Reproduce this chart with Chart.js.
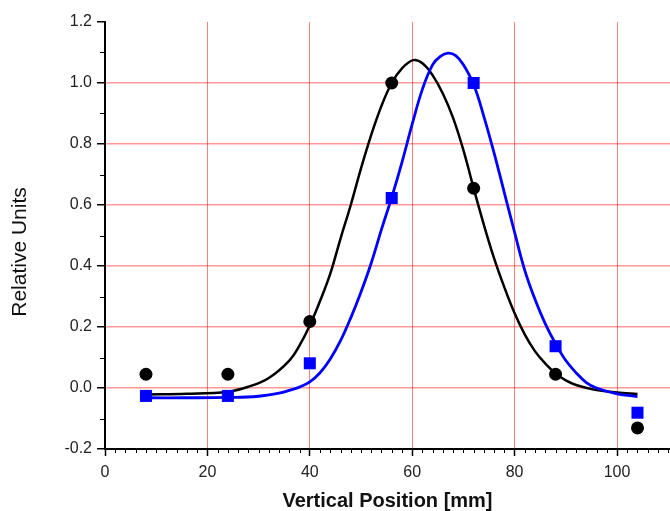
<!DOCTYPE html>
<html>
<head>
<meta charset="utf-8">
<script src="https://cdn.jsdelivr.net/npm/chart.js@4"></script>
<style>
  html, body { margin: 0; padding: 0; background: #fff; overflow: hidden; }
  canvas { display: block; }
</style>
</head>
<body>
<canvas id="miGrafico" width="670" height="511"></canvas>
<script>
// measured points
const posX = [8, 24, 40, 56, 72, 88, 104];
const blackPts = [0.045, 0.045, 0.218, 1.0, 0.655, 0.045, -0.131];
const bluePts = [-0.026, -0.026, 0.081, 0.623, 1.0, 0.137, -0.081];

// fitted curves
const blackFitX = [8, 16, 24, 28, 32, 36, 38, 40, 42, 44, 46, 48, 50, 52, 54, 56, 58, 60.2, 62, 64, 66, 68, 70, 72, 74, 76, 78, 80, 82, 84, 86, 88, 90, 92, 96, 100, 104];
const blackFitY = [-0.021, -0.019, -0.012, 0.004, 0.033, 0.09, 0.14, 0.205, 0.285, 0.375, 0.49, 0.6, 0.72, 0.83, 0.925, 1.0, 1.048, 1.075, 1.065, 1.025, 0.965, 0.885, 0.78, 0.655, 0.535, 0.425, 0.33, 0.245, 0.175, 0.12, 0.08, 0.048, 0.025, 0.01, -0.007, -0.015, -0.02];
const blueFitX = [8, 16, 24, 30, 34, 36, 38, 40, 42, 44, 46, 48, 50, 52, 54, 56, 58, 60, 62, 64, 65.5, 67, 68.5, 70, 72, 74, 76, 78, 80, 82, 84, 86, 88, 90, 92, 94, 96, 100, 104];
const blueFitY = [-0.032, -0.032, -0.031, -0.027, -0.017, -0.008, 0.003, 0.02, 0.05, 0.095, 0.155, 0.23, 0.315, 0.41, 0.52, 0.625, 0.74, 0.865, 0.98, 1.06, 1.087, 1.098, 1.09, 1.06, 0.995, 0.89, 0.77, 0.64, 0.51, 0.385, 0.29, 0.21, 0.145, 0.09, 0.05, 0.018, 0.0, -0.019, -0.028];

const xTicks = [0, 20, 40, 60, 80, 100];
const yTicks = [-0.2, 0.0, 0.2, 0.4, 0.6, 0.8, 1.0, 1.2];
const yTitle = "Relative Units";

function toXY(xs, ys) {
  return xs.map((x, i) => ({ x: x, y: ys[i] }));
}

// small ticks between the labelled ones, plus the y title
const extras = {
  id: "extras",
  afterDraw(chart) {
    const { ctx, scales: { x, y } } = chart;
    ctx.save();
    ctx.strokeStyle = "#000";
    ctx.lineWidth = 1;
    ctx.beginPath();
    for (let v = 2; v < x.max; v += 2) {
      if (v % 20 === 0) continue;
      const px = Math.round(x.getPixelForValue(v)) + 0.5;
      ctx.moveTo(px, y.bottom);
      ctx.lineTo(px, y.bottom + 4);
    }
    for (let i = -1; i < 12; i += 2) {
      const py = Math.round(y.getPixelForValue(i / 10)) + 0.5;
      ctx.moveTo(x.left - 5, py);
      ctx.lineTo(x.left, py);
    }
    ctx.stroke();

    ctx.translate(20, 252);
    ctx.rotate(-Math.PI / 2);
    ctx.fillStyle = "#111";
    ctx.font = "21px 'Liberation Sans'";
    ctx.textAlign = "center";
    ctx.textBaseline = "middle";
    ctx.fillText(yTitle, 0, 0);
    ctx.restore();
  },
};

function createChart() {
  const ctx = document.getElementById("miGrafico").getContext("2d");
  new Chart(ctx, {
    type: "scatter",
    data: {
      datasets: [
        {
          data: toXY(posX, blackPts),
          pointStyle: "circle",
          pointRadius: 6.5,
          backgroundColor: "#000",
          borderColor: "#000",
          borderWidth: 0,
          order: 0,
        },
        {
          data: toXY(posX, bluePts),
          pointStyle: "rect",
          pointRadius: 8.5,
          backgroundColor: "#0000ff",
          borderColor: "#0000ff",
          borderWidth: 0,
          order: 0,
        },
        {
          data: toXY(blackFitX, blackFitY),
          showLine: true,
          pointRadius: 0,
          borderColor: "#000",
          borderWidth: 2.5,
          tension: 0.4,
          order: 2,
        },
        {
          data: toXY(blueFitX, blueFitY),
          showLine: true,
          pointRadius: 0,
          borderColor: "#0000ff",
          borderWidth: 2.8,
          tension: 0.4,
          order: 1,
        },
      ],
    },
    options: {
      responsive: false,
      animation: false,
      layout: { autoPadding: false, padding: { top: 22, right: 0, bottom: 0, left: 0 } },
      plugins: {
        legend: { display: false },
        tooltip: { enabled: false },
      },
      scales: {
        x: {
          type: "linear",
          min: 0,
          max: 110.35,
          afterFit: scale => {
            scale.height = 62;
            scale.paddingLeft = 0;
            scale.paddingRight = 0;
          },
          afterBuildTicks: scale => {
            scale.ticks = xTicks.map(v => ({ value: v }));
          },
          ticks: {
            includeBounds: false,
            maxRotation: 0,
            padding: 7,
            color: "#222",
            font: { family: "Liberation Sans", size: 16 },
          },
          grid: {
            color: c => (c.tick && c.tick.value === 0 ? "rgba(0,0,0,0)" : "rgba(255,0,0,0.5)"),
            lineWidth: 1,
            tickColor: "#000",
            tickLength: 7,
            tickWidth: 1.5,
          },
          border: { color: "#000", width: 2 },
          title: {
            display: true,
            text: "Vertical Position [mm]",
            color: "#111",
            font: { family: "Liberation Sans", size: 20, weight: "bold", lineHeight: 1 },
            padding: { top: 0, bottom: 0 },
          },
        },
        y: {
          type: "linear",
          min: -0.2,
          max: 1.2,
          afterFit: scale => { scale.width = 105; },
          afterBuildTicks: scale => {
            scale.ticks = yTicks.map(v => ({ value: v }));
          },
          ticks: {
            padding: 5,
            color: "#222",
            font: { family: "Liberation Sans", size: 16 },
            callback: v => Number(v).toFixed(1),
          },
          grid: {
            color: c => {
              if (!c.tick) return "rgba(0,0,0,0)";
              const v = c.tick.value;
              if (Math.abs(v - 1.2) < 1e-6 || Math.abs(v + 0.2) < 1e-6) return "rgba(0,0,0,0)";
              return "rgba(255,0,0,0.4)";
            },
            lineWidth: 1.5,
            tickColor: "#000",
            tickLength: 8,
            tickWidth: 1.5,
          },
          border: { color: "#000", width: 2 },
        },
      },
    },
    plugins: [extras],
  });
}

createChart();
</script>
</body>
</html>
